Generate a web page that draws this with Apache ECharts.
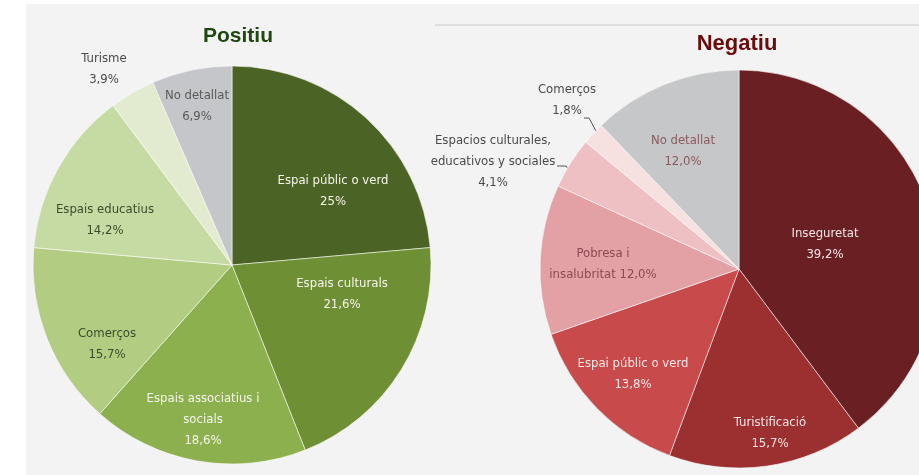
<!DOCTYPE html>
<html>
<head>
<meta charset="utf-8">
<script src="https://cdn.jsdelivr.net/npm/echarts@6/dist/echarts.min.js"></script>
<style>
  html, body { margin: 0; padding: 0; background: #ffffff; }
  #chart { width: 919px; height: 475px; }
</style>
</head>
<body>
<div id="chart"></div>
<script>
// Positiu
const posNames = ['Espai públic o verd', 'Espais culturals', 'Espais associatius i socials', 'Comerços', 'Espais educatius', 'Turisme', 'No detallat']
const posValues = [25, 21.6, 18.6, 15.7, 14.2, 3.9, 6.9]
const posLabels = ['Espai públic o verd\n25%', 'Espais culturals\n21,6%', 'Espais associatius i\nsocials\n18,6%', 'Comerços\n15,7%', 'Espais educatius\n14,2%', 'Turisme\n3,9%', 'No detallat\n6,9%']

// Negatiu
const negNames = ['Inseguretat', 'Turistificació', 'Espai públic o verd', 'Pobresa i insalubritat', 'Espacios culturales, educativos y sociales', 'Comerços', 'No detallat']
const negValues = [39.2, 15.7, 13.8, 12.0, 4.1, 1.8, 12.0]
const negLabels = ['Inseguretat\n39,2%', 'Turistificació\n15,7%', 'Espai públic o verd\n13,8%', 'Pobresa i\ninsalubritat 12,0%', 'Espacios culturales,\neducativos y sociales\n4,1%', 'Comerços\n1,8%', 'No detallat\n12,0%']

// estils
const posColors = ['#4b6325', '#6e8f34', '#8cb04e', '#b2cc82', '#c6dba3', '#e2ebd0', '#c4c6c9']
const posText = ['#f6f6ea', '#f6f6ea', '#f6f6ea', '#3d4a2b', '#3d4a2b', '#4a4a4a', '#5a5a5a']
const posLabelPos = [[333, 191], [342, 294], [203, 420], [107, 344], [105, 220], [104, 69], [197, 106]]

const negColors = ['#6a2023', '#9c2f30', '#c84a4b', '#e3a1a5', '#eec0c3', '#f6e0e0', '#c6c7c8']
const negText = ['#f8e6e6', '#f8e6e6', '#f8e6e6', '#8b4b52', '#4a4a4a', '#4a4a4a', '#8a5a60']
const negLabelPos = [[825, 244], [770, 433], [633, 374], [603, 264], [493, 162], [567, 100], [683, 151]]
// linies guia (Comerços, Espacios)
const negLines = { 4: [[569, 170], [566, 166], [557, 166]], 5: [[596, 131], [589, 118], [584, 118]] }

const FONT = '"Liberation Sans Narrow", "DejaVu Sans Condensed", sans-serif'

function buildData(names, values, colors, texts, labels, withLines) {
  let data = []
  for (let i = 0; i < names.length; i++) {
    let item = {
      name: names[i],
      value: values[i],
      itemStyle: { color: colors[i] },
      label: { color: texts[i], formatter: labels[i] },
    }
    if (withLines && withLines[i]) {
      item.label.position = 'outside'
      item.labelLine = { show: true, lineStyle: { color: '#555', width: 1 } }
    }
    data.push(item)
  }
  return data
}

function makeLayout(posArr, lines) {
  return function (params) {
    let p = posArr[params.dataIndex]
    let out = { x: p[0], y: p[1], align: 'center', verticalAlign: 'middle' }
    if (lines && lines[params.dataIndex]) out.labelLinePoints = lines[params.dataIndex]
    return out
  }
}

var myChart = echarts.init(document.getElementById('chart'))
var option = {
  backgroundColor: '#ffffff',
  animation: false,
  graphic: [
    { type: 'rect', z: -10, shape: { x: 26, y: 4, width: 893, height: 471 }, style: { fill: '#f3f3f3' } },
    { type: 'rect', z: -9, shape: { x: 435, y: 24, width: 484, height: 2 }, style: { fill: '#dedede' } },
  ],
  title: [
    {
      text: 'Positiu', left: 233, top: 21, textAlign: 'center',
      textStyle: { fontFamily: 'Liberation Sans, Arial, sans-serif', fontSize: 21, fontWeight: 'bold', color: '#1f4712' },
    },
    {
      text: 'Negatiu', left: 732, top: 28, textAlign: 'center',
      textStyle: { fontFamily: 'Liberation Sans, Arial, sans-serif', fontSize: 22, fontWeight: 'bold', color: '#6a0c0c' },
    },
  ],
  series: [
    {
      type: 'pie',
      center: [232, 265],
      radius: 199,
      startAngle: 90,
      clockwise: true,
      itemStyle: { borderColor: 'rgba(255,255,255,0.55)', borderWidth: 1 },
      label: { show: true, position: 'inside', fontFamily: FONT, fontSize: 13, fontWeight: 'normal', lineHeight: 21 },
      labelLine: { show: false },
      labelLayout: makeLayout(posLabelPos),
      emphasis: { disabled: true },
      data: buildData(posNames, posValues, posColors, posText, posLabels),
    },
    {
      type: 'pie',
      center: [739, 269],
      radius: 199,
      startAngle: 90,
      clockwise: true,
      itemStyle: { borderColor: 'rgba(255,255,255,0.55)', borderWidth: 1 },
      label: { show: true, position: 'inside', fontFamily: FONT, fontSize: 13, fontWeight: 'normal', lineHeight: 21 },
      labelLine: { show: false },
      labelLayout: makeLayout(negLabelPos, negLines),
      emphasis: { disabled: true },
      data: buildData(negNames, negValues, negColors, negText, negLabels, negLines),
    },
  ],
}
myChart.setOption(option)
</script>
</body>
</html>
